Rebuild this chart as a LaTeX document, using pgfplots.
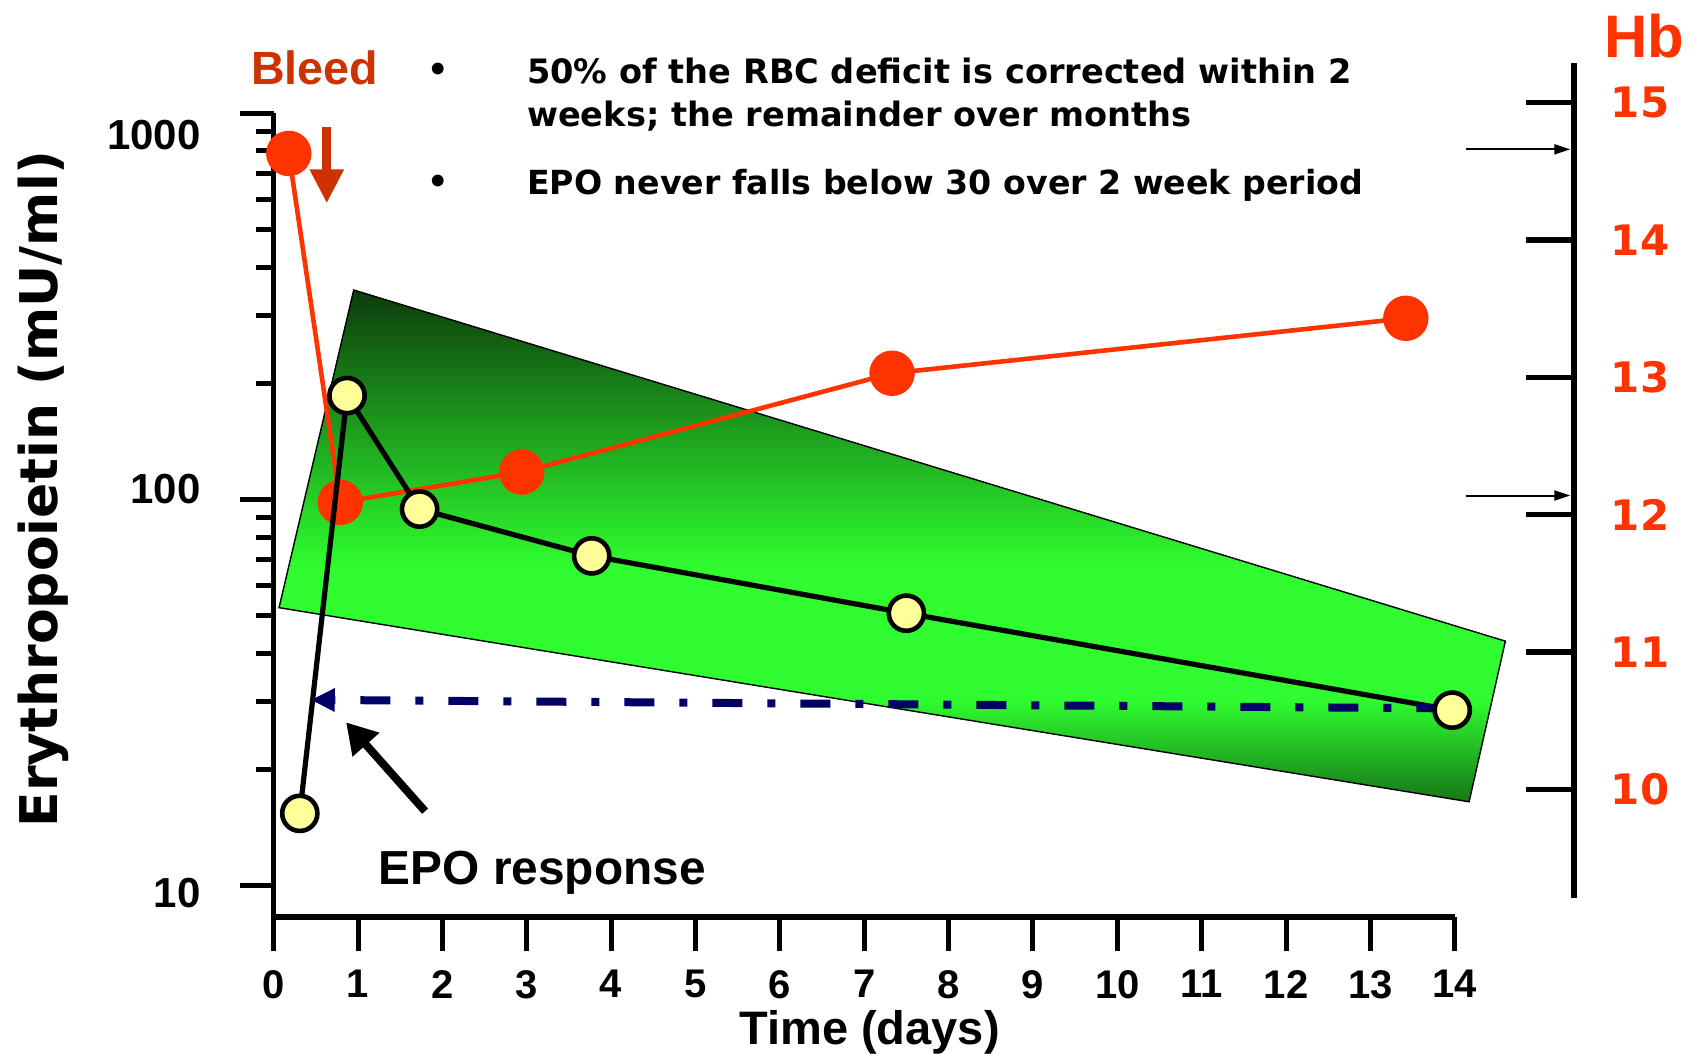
\documentclass[border=0pt]{standalone}
\usepackage{pgfplots}
\pgfplotsset{compat=1.18}
\usepackage{pgfplotstable}
\usetikzlibrary{arrows.meta}
\usepackage{fontspec}
\setmainfont{DejaVu Sans}
\newfontfamily\lib{Liberation Sans}

\definecolor{hbred}{HTML}{FF3300}
\definecolor{bleedred}{HTML}{CC3300}
\definecolor{navyb}{HTML}{000066}
\definecolor{epoyel}{HTML}{FFFF99}
\definecolor{gtop}{RGB}{12,60,12}
\definecolor{gmid}{RGB}{47,253,47}
\definecolor{gbot}{RGB}{24,118,24}
\pgfdeclareverticalshading{greenband}{100bp}{color(0bp)=(gbot); color(25bp)=(gbot); color(35bp)=(gmid); color(48bp)=(gmid); color(75bp)=(gtop); color(100bp)=(gtop)}

% EPO (mU/ml), days
\pgfplotstableread{
x y
0.31 15.4
0.87 186
1.73 94.5
3.77 71.5
7.50 50.8
13.97 28.5
}\epodata

% Hb (g/dl), days
\pgfplotstableread{
x hb
0.18 14.63
0.79 12.09
2.94 12.31
7.33 13.03
13.42 13.43
}\hbdata

% shaded band
\pgfplotstableread{
x y
0.949 349
14.60 43.0
14.17 16.5
0.064 52.5
}\banddata

\begin{document}
\begin{tikzpicture}

% background band + left/bottom axes
\begin{axis}[
  at={(136.82pt,68.14pt)}, anchor=south west,
  scale only axis, width=590.55pt, height=401.81pt,
  xmin=0, xmax=14, ymode=log, ymin=8.295, ymax=1000,
  clip=false,
  axis x line=bottom, axis y line=left,
  axis line style={-, line width=2.7pt},
  xtick={0,...,14},
  ytick={10,100,1000}, yticklabels={},
  minor ytick={20,30,40,50,60,70,80,90,200,300,400,500,600,700,800,900},
  tick align=outside, major tick length=17pt, minor tick length=9pt,
  tick style={black, line width=2.5pt},
  /pgf/number format/assume math mode=true,
  xticklabel style={font=\lib\bfseries\fontsize{20}{24}\selectfont, yshift=-6pt},
]
\addplot[draw=black, line width=0.7pt, shade, shading=greenband] table {\banddata} -- cycle;
\end{axis}

% Hb axis
\begin{axis}[
  at={(136.82pt,77.88pt)}, anchor=south west,
  scale only axis, width=650.04pt, height=417.5pt,
  xmin=0, xmax=15.41, ymin=9.2126, ymax=15.2913,
  axis x line=none, axis y line=right,
  axis line style={-, line width=3.2pt},
  ytick={10,...,15}, ytick align=inside, major tick length=24pt,
  tick style={black, line width=2.7pt},
  /pgf/number format/assume math mode=true,
  yticklabel style={font=\bfseries\fontsize{21}{24}\selectfont, text=hbred, xshift=15pt},
  clip=false,
]
\addplot[hbred, line width=2.3pt, mark=*, mark size=10.2pt,
  mark options={draw=none, fill=hbred}] table[x=x, y=hb] {\hbdata};
\draw[line width=1pt, -{Triangle[length=8pt,width=5pt]}] (axis cs:14.13,14.66) -- (axis cs:15.37,14.66);
\draw[line width=1pt, -{Triangle[length=8pt,width=5pt]}] (axis cs:14.13,12.14) -- (axis cs:15.37,12.14);
\end{axis}

% EPO series on top
\begin{axis}[
  at={(136.82pt,68.14pt)}, anchor=south west,
  scale only axis, width=590.55pt, height=401.81pt,
  xmin=0, xmax=14, ymode=log, ymin=8.295, ymax=1000,
  clip=false, hide axis,
]
\addplot[black, line width=2.6pt, mark=*, mark size=8.8pt,
  mark options={fill=epoyel, draw=black, line width=2.3pt}] table {\epodata};
\draw[navyb, line width=4pt, dash pattern=on 15pt off 12.5pt on 4pt off 12.5pt,
  -{Triangle[length=12pt,width=11pt]}] (axis cs:13.9,28.8) -- (axis cs:0.44,30.3);
\draw[line width=4pt, -{Triangle[length=15pt,width=17pt]}] (axis cs:1.795,15.6) -- (axis cs:0.859,26.5);
\draw[bleedred, line width=4.5pt, -{Triangle[length=17pt,width=16pt]}] (axis cs:0.63,925) -- (axis cs:0.63,585);
\end{axis}

% texts (coordinates in reference pixels)
\begin{scope}[x=0.5408pt, y=-0.5408pt, yshift=526.7pt]
\node[text=bleedred, font=\lib\bfseries\fontsize{23.3}{26}\selectfont] at (291,63) {Bleed};
\node[font=\bfseries\fontsize{16.8}{20}\selectfont] at (405,67) {•};
\node[font=\bfseries\fontsize{16.8}{20}\selectfont] at (405,170) {•};
\node[anchor=base west, inner sep=0pt, font=\bfseries\fontsize{16.8}{20}\selectfont] at (487,77) {50\% of the RBC deficit is corrected within 2};
\node[anchor=base west, inner sep=0pt, font=\bfseries\fontsize{16.8}{20}\selectfont] at (487,117) {weeks; the remainder over months};
\node[anchor=base west, inner sep=0pt, font=\bfseries\fontsize{16.6}{20}\selectfont] at (487,180) {EPO never falls below 30 over 2 week period};
\node[text=hbred, font=\lib\bfseries\fontsize{30}{34}\selectfont] at (1520,33) {Hb};
\node[rotate=90, font=\bfseries\fontsize{26}{30}\selectfont] at (40,452) {Erythropoietin (mU/ml)};
\node[anchor=east, font=\lib\bfseries\fontsize{21}{24}\selectfont] at (192,125) {1000};
\node[anchor=east, font=\lib\bfseries\fontsize{21}{24}\selectfont] at (192,452) {100};
\node[anchor=east, font=\lib\bfseries\fontsize{21}{24}\selectfont] at (192,826) {10};
\node[anchor=base west, inner sep=0pt, font=\lib\bfseries\fontsize{23.9}{28}\selectfont] at (350,818) {EPO response};
\node[anchor=base, inner sep=0pt, font=\lib\bfseries\fontsize{23.5}{28}\selectfont] at (804,966) {Time (days)};
\end{scope}

\pgfresetboundingbox
\path[use as bounding box] (0,0) rectangle (848pt,526.7pt);
\end{tikzpicture}
\end{document}
